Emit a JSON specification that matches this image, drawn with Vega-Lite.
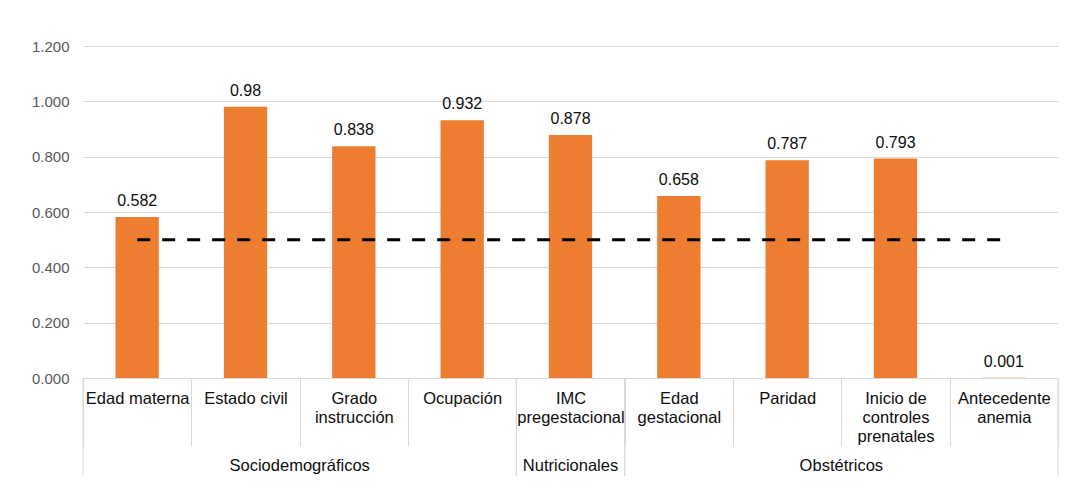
{
  "$schema": "https://vega.github.io/schema/vega-lite/v6.json",
  "width": 975,
  "height": 332,
  "autosize": {"type": "none"},
  "padding": {"left": 83, "top": 46, "right": 12, "bottom": 123},
  "background": "#ffffff",
  "config": {"view": {"stroke": null}, "font": "Liberation Sans"},
  "datasets": {
    "factores": [
      {"categoria": "Edad materna", "grupo": "Sociodemográficos", "valor": 0.582, "umbral": 0.5},
      {"categoria": "Estado civil", "grupo": "Sociodemográficos", "valor": 0.98, "umbral": 0.5},
      {"categoria": "Grado\ninstrucción", "grupo": "Sociodemográficos", "valor": 0.838, "umbral": 0.5},
      {"categoria": "Ocupación", "grupo": "Sociodemográficos", "valor": 0.932, "umbral": 0.5},
      {"categoria": "IMC\npregestacional", "grupo": "Nutricionales", "valor": 0.878, "umbral": 0.5},
      {"categoria": "Edad\ngestacional", "grupo": "Obstétricos", "valor": 0.658, "umbral": 0.5},
      {"categoria": "Paridad", "grupo": "Obstétricos", "valor": 0.787, "umbral": 0.5},
      {"categoria": "Inicio de\ncontroles\nprenatales", "grupo": "Obstétricos", "valor": 0.793, "umbral": 0.5},
      {"categoria": "Antecedente\nanemia", "grupo": "Obstétricos", "valor": 0.001, "umbral": 0.5}
    ],
    "grupos": [
      {"grupo": "Sociodemográficos", "primera": "Edad materna", "ultima": "Ocupación", "centro": "Grado\ninstrucción"},
      {"grupo": "Nutricionales", "primera": "IMC\npregestacional", "ultima": "IMC\npregestacional", "centro": "IMC\npregestacional"},
      {"grupo": "Obstétricos", "primera": "Edad\ngestacional", "ultima": "Antecedente\nanemia", "centro": "Inicio de\ncontroles\nprenatales"}
    ]
  },
  "layer": [
    {
      "data": {"name": "factores"},
      "mark": {"type": "bar", "color": "#ED7D31", "width": {"band": 0.4}},
      "encoding": {
        "x": {
          "field": "categoria", "type": "nominal", "sort": null,
          "scale": {"type": "band", "domain": ["Edad materna", "Estado civil", "Grado\ninstrucción", "Ocupación", "IMC\npregestacional", "Edad\ngestacional", "Paridad", "Inicio de\ncontroles\nprenatales", "Antecedente\nanemia"], "paddingInner": 0, "paddingOuter": 0},
          "axis": {
            "title": null, "labelAngle": 0, "labelExpr": "split(datum.label, '\\n')",
            "domain": true, "domainColor": "#d9d9d9", "ticks": true, "tickBand": "extent",
            "tickSize": 68, "tickColor": "#d9d9d9", "labelPadding": -56, "labelBaseline": "top",
            "labelLineHeight": 19, "labelFontSize": 16.5, "labelColor": "#0d0d0d",
            "labelOverlap": false, "labelBound": false, "labelFlush": false, "labelLimit": 0
          }
        },
        "y": {
          "field": "valor", "type": "quantitative",
          "scale": {"domain": [0, 1.2], "nice": false},
          "axis": {
            "title": null, "values": [0, 0.2, 0.4, 0.6, 0.8, 1, 1.2], "format": ".3f",
            "domain": false, "ticks": false, "grid": true, "gridColor": "#d9d9d9", "gridWidth": 1,
            "labelColor": "#595959", "labelFontSize": 15, "labelPadding": 14
          }
        }
      }
    },
    {
      "data": {"name": "factores"},
      "mark": {"type": "text", "dy": -11, "baseline": "alphabetic", "fontSize": 16, "color": "#0d0d0d"},
      "encoding": {
        "x": {"field": "categoria", "type": "nominal", "sort": null, "title": null},
        "y": {"field": "valor", "type": "quantitative", "title": null},
        "text": {"field": "valor", "type": "quantitative"}
      }
    },
    {
      "data": {"name": "factores"},
      "mark": {"type": "line", "color": "#000000", "strokeWidth": 3, "strokeDash": [13, 12]},
      "encoding": {
        "x": {"field": "categoria", "type": "nominal", "sort": null, "title": null},
        "y": {"field": "umbral", "type": "quantitative", "title": null}
      }
    },
    {
      "data": {"name": "grupos"},
      "mark": {"type": "rule", "color": "#d9d9d9", "strokeWidth": 1, "y2Offset": 98},
      "encoding": {
        "x": {"field": "primera", "type": "nominal", "bandPosition": 0, "title": null},
        "y": {"datum": 0, "type": "quantitative", "title": null},
        "y2": {"datum": 0}
      }
    },
    {
      "data": {"name": "grupos"},
      "mark": {"type": "rule", "color": "#d9d9d9", "strokeWidth": 1, "y2Offset": 98},
      "encoding": {
        "x": {"field": "ultima", "type": "nominal", "bandPosition": 1, "title": null},
        "y": {"datum": 0, "type": "quantitative", "title": null},
        "y2": {"datum": 0}
      }
    },
    {
      "data": {"name": "grupos"},
      "transform": [{"filter": "datum.grupo != 'Nutricionales'"}],
      "mark": {"type": "text", "yOffset": 88, "baseline": "middle", "fontSize": 16.5, "color": "#0d0d0d"},
      "encoding": {
        "x": {"field": "centro", "type": "nominal", "bandPosition": 0, "title": null},
        "y": {"datum": 0, "type": "quantitative", "title": null},
        "text": {"field": "grupo"}
      }
    },
    {
      "data": {"name": "grupos"},
      "transform": [{"filter": "datum.grupo == 'Nutricionales'"}],
      "mark": {"type": "text", "yOffset": 88, "baseline": "middle", "fontSize": 16.5, "color": "#0d0d0d"},
      "encoding": {
        "x": {"field": "centro", "type": "nominal", "bandPosition": 0.5, "title": null},
        "y": {"datum": 0, "type": "quantitative", "title": null},
        "text": {"field": "grupo"}
      }
    }
  ]
}
